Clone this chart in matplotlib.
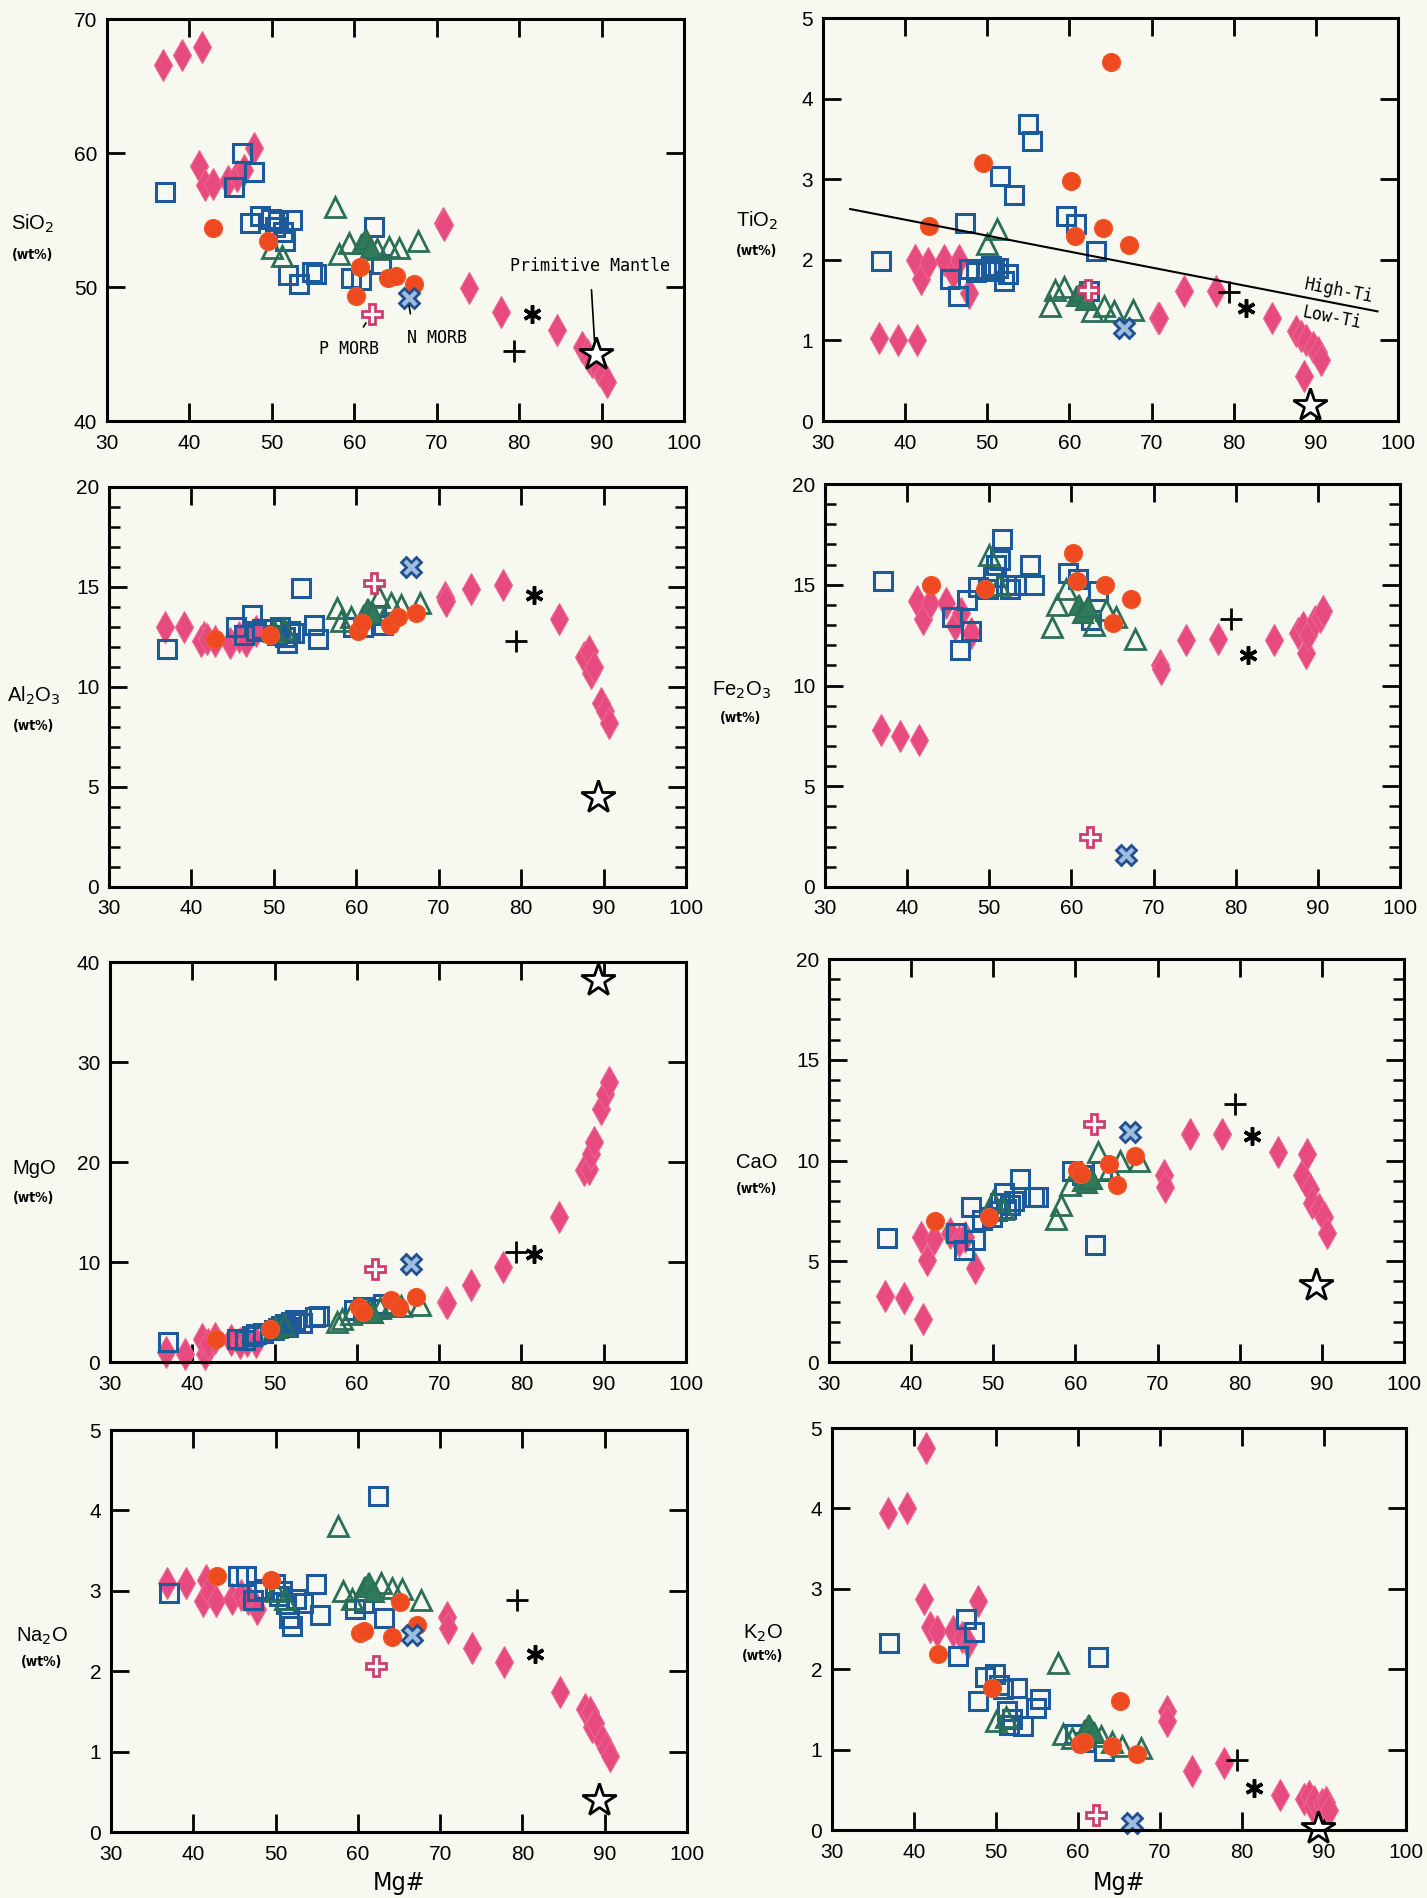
import numpy as np
import matplotlib
matplotlib.use("Agg")
import matplotlib.pyplot as plt
from matplotlib import font_manager
from matplotlib.ticker import MultipleLocator

# Mg# variation diagrams for major oxides (wt%)
oxides = ["SiO2", "TiO2", "Al2O3", "Fe2O3", "MgO", "CaO", "Na2O", "K2O"]
oxide_labels = ["SiO$_2$", "TiO$_2$", "Al$_2$O$_3$", "Fe$_2$O$_3$", "MgO", "CaO", "Na$_2$O", "K$_2$O"]

# pink diamonds
diamond_mg = [36.8, 39.1, 41.5, 41.2, 41.9, 42.8, 44.7, 45.8, 46.6, 47.8, 70.8, 70.9, 73.9, 77.8, 84.6,
              87.6, 88.2, 88.5, 88.8, 89.7, 90.2, 90.6]
diamond_SiO2 = [66.6, 67.3, 67.9, 59.0, 57.6, 57.7, 57.9, 58.3, 58.7, 60.4, 54.8, 54.6, 49.9, 48.1, 46.8,
                45.5, 45.0, 44.7, 44.4, 43.8, 43.4, 42.9]
diamond_TiO2 = [1.03, 1.01, 1.00, 2.00, 1.76, 1.96, 2.00, 1.84, 2.00, 1.59, 1.28, 1.28, 1.61, 1.61, 1.28,
                1.12, 1.05, 0.56, 1.00, 0.92, 0.85, 0.76]
diamond_Al2O3 = [13.0, 13.0, 12.5, 12.3, 12.4, 12.3, 12.2, 12.5, 12.3, 12.8, 14.5, 14.3, 14.9, 15.1, 13.4,
                 11.5, 11.8, 10.7, 11.0, 9.2, 8.8, 8.2]
diamond_Fe2O3 = [7.8, 7.5, 7.3, 14.2, 13.3, 14.1, 14.1, 13.0, 13.6, 12.6, 11.0, 10.8, 12.25, 12.3, 12.25,
                 12.6, 12.9, 11.6, 12.5, 13.2, 13.4, 13.7]
diamond_MgO = [1.0, 0.8, 0.8, 2.3, 1.8, 2.4, 2.2, 1.9, 2.1, 2.0, 6.0, 5.9, 7.7, 9.5, 14.5,
               19.2, 19.3, 20.8, 22.0, 25.3, 26.8, 28.0]
diamond_CaO = [3.3, 3.2, 2.15, 6.2, 5.05, 6.1, 6.4, 6.0, 6.2, 4.65, 9.3, 8.7, 11.3, 11.3, 10.4,
               9.3, 10.3, 8.6, 7.9, 7.6, 7.2, 6.4]
diamond_Na2O = [3.10, 3.10, 3.14, 2.87, 3.00, 2.87, 2.90, 2.95, 2.90, 2.77, 2.68, 2.54, 2.29, 2.12, 1.74,
                1.53, 1.49, 1.30, 1.35, 1.14, 1.05, 0.95]
diamond_K2O = [3.94, 4.00, 4.75, 2.87, 2.52, 2.48, 2.48, 2.40, 2.33, 2.85, 1.48, 1.35, 0.73, 0.83, 0.44,
               0.38, 0.42, 0.30, 0.36, 0.32, 0.35, 0.25]

# blue open squares
square_mg = [37.0, 45.4, 46.4, 47.3, 47.8, 48.6, 49.9, 50.4, 50.8, 51.3, 51.6, 52.0, 52.5, 53.3, 54.9,
             55.4, 59.6, 60.8, 62.4, 63.2]
square_SiO2 = [57.1, 57.5, 60.0, 54.8, 58.6, 55.3, 55.1, 54.5, 54.9, 54.1, 53.4, 50.9, 55.0, 50.2, 51.1,
               51.0, 50.7, 50.5, 54.5, 51.7]
square_TiO2 = [1.98, 1.76, 1.55, 2.46, 1.88, 1.85, 1.88, 1.92, 1.86, 1.90, 3.04, 1.74, 1.82, 2.81, 3.68,
               3.47, 2.54, 2.44, 1.61, 2.11]
square_Al2O3 = [11.9, 13.0, 12.6, 13.6, 12.8, 12.9, 12.9, 12.6, 13.0, 12.5, 12.2, 12.8, 12.7, 14.96, 13.1,
                12.4, 13.0, 13.0, 13.6, 13.1]
square_Fe2O3 = [15.2, 13.4, 11.75, 14.25, 12.7, 14.9, 14.8, 15.4, 16.0, 16.25, 17.25, 15.0, 14.8, 15.0, 16.0,
                15.0, 15.6, 15.3, 13.25, 14.7]
square_MgO = [2.0, 2.3, 2.2, 2.6, 2.8, 2.9, 3.2, 3.4, 3.6, 3.8, 3.5, 4.0, 4.2, 3.9, 4.5,
              4.6, 5.2, 5.5, 5.3, 5.8]
square_CaO = [6.14, 6.4, 5.56, 7.7, 6.06, 7.05, 7.2, 7.5, 7.9, 8.4, 7.6, 7.8, 8.0, 9.1, 8.2,
              8.2, 9.46, 9.3, 5.8, 9.5]
square_Na2O = [2.97, 3.18, 3.18, 2.89, 3.00, 3.02, 3.08, 2.93, 3.00, 2.83, 2.66, 2.56, 2.90, 2.85, 3.08,
               2.70, 2.77, 2.85, 4.18, 2.66]
square_K2O = [2.33, 2.17, 2.62, 2.46, 1.60, 1.90, 1.94, 1.80, 1.75, 1.48, 1.31, 1.38, 1.77, 1.29, 1.52,
              1.63, 1.19, 1.10, 2.15, 0.98]

# red filled circles
circle_mg = [42.9, 49.5, 60.2, 60.7, 64.1, 65.1, 67.2]
circle_SiO2 = [54.4, 53.4, 49.3, 51.5, 50.7, 50.8, 50.2]
circle_TiO2 = [2.42, 3.20, 2.98, 2.29, 2.39, 4.46, 2.18]
circle_Al2O3 = [12.4, 12.6, 12.8, 13.2, 13.1, 13.5, 13.7]
circle_Fe2O3 = [15.0, 14.8, 16.6, 15.2, 15.0, 13.1, 14.3]
circle_MgO = [2.3, 3.3, 5.5, 5.0, 6.2, 5.5, 6.5]
circle_CaO = [7.0, 7.2, 9.55, 9.35, 9.85, 8.8, 10.2]
circle_Na2O = [3.18, 3.13, 2.48, 2.50, 2.43, 2.86, 2.58]
circle_K2O = [2.19, 1.77, 1.07, 1.09, 1.05, 1.60, 0.94]

# green open triangles
tri_mg = [50.0, 51.2, 57.6, 58.2, 59.3, 62.8, 64.2, 65.4, 67.7]
tri_SiO2 = [52.9, 52.3, 56.0, 52.5, 53.3, 52.8, 53.0, 52.9, 53.4]
tri_TiO2 = [2.20, 2.38, 1.43, 1.62, 1.66, 1.36, 1.43, 1.36, 1.38]
tri_Al2O3 = [12.8, 12.9, 13.97, 13.3, 13.5, 14.5, 14.2, 14.1, 14.2]
tri_Fe2O3 = [16.5, 15.0, 12.9, 14.0, 14.8, 13.0, 13.75, 13.4, 12.3]
tri_MgO = [3.5, 3.7, 4.0, 4.3, 4.8, 5.4, 5.6, 5.6, 5.7]
tri_CaO = [8.0, 7.6, 7.1, 7.8, 8.8, 10.4, 9.6, 10.0, 10.0]
tri_Na2O = [3.00, 2.90, 3.81, 3.00, 2.90, 3.10, 3.04, 3.02, 2.89]
tri_K2O = [1.35, 1.40, 2.08, 1.20, 1.15, 1.17, 1.10, 1.05, 1.02]

# green filled triangles
solid_tri_mg = [60.9, 61.4, 62.0]
solid_tri_SiO2 = [53.2, 53.6, 52.9]
solid_tri_TiO2 = [1.55, 1.60, 1.50]
solid_tri_Al2O3 = [13.6, 13.9, 13.7]
solid_tri_Fe2O3 = [14.0, 13.6, 13.9]
solid_tri_MgO = [5.0, 5.2, 4.9]
solid_tri_CaO = [9.0, 8.9, 9.1]
solid_tri_Na2O = [3.05, 3.10, 2.98]
solid_tri_K2O = [1.25, 1.30, 1.22]

# reference compositions, oxide order as in `oxides`
pmorb_mg = 62.2
pmorb = [48.0, 1.62, 15.2, 2.5, 9.3, 11.8, 2.06, 0.19]
nmorb_mg = 66.6
nmorb = [49.2, 1.16, 16.0, 1.6, 9.8, 11.4, 2.45, 0.09]
plus_mg = 79.4
plus_ref = [45.2, 1.60, 12.3, 13.3, 11.0, 12.8, 2.89, 0.87]
aster_mg = 81.5
aster_ref = [48.0, 1.40, 14.6, 11.5, 10.8, 11.2, 2.22, 0.52]
pm_mg = 89.3
pm = [45.0, 0.20, 4.5, np.nan, 38.2, 3.8, 0.40, 0.03]

# High-Ti / Low-Ti divide
ti_line_mg = [33.3, 97.5]
ti_line_val = [2.63, 1.36]

# axis set-up per panel
y_limits = [(40, 70), (0, 5), (0, 20), (0, 20), (0, 40), (0, 20), (0, 5), (0, 5)]
y_steps = [10, 1, 5, 5, 10, 5, 1, 1]
y_minor = [None, None, 1, 1, None, 1, None, None]
x_ticks = [30, 40, 50, 60, 70, 80, 90, 100]

W, H = 1427, 1898
# panel boxes in pixels: left, right, top, bottom
boxes = [(107, 684, 19, 421), (823, 1398, 18, 421),
         (109, 686, 487, 887), (825, 1400, 484, 887),
         (110, 686, 962, 1362), (829, 1404, 959, 1362),
         (111, 687, 1430, 1832), (832, 1406, 1428, 1830)]
# oxide name / (wt%) label centres in pixels
name_pos = [(33, 224, 255), (757, 221, 251), (34, 696, 726), (741, 690, 718),
            (34, 1168, 1198), (757, 1162, 1189), (42, 1636, 1662), (763, 1633, 1656)]

names = {f.name for f in font_manager.fontManager.ttflist}
narrow = "Liberation Sans Narrow" if "Liberation Sans Narrow" in names else "DejaVu Sans"
mono = "DejaVu Sans Mono"
tick_font = "Liberation Sans"

bg = "#f7f8ef"
fig = plt.figure(figsize=(W / 100, H / 100), dpi=100, facecolor=bg)

groups = [
    ("diamond", dict(marker="d", ms=16, mfc="#e64a7e", mec="#ec6590", mew=0.8)),
    ("square", dict(marker="s", ms=13, mfc="none", mec="#1d5a9a", mew=2.2)),
    ("tri", dict(marker="^", ms=14, mfc="none", mec="#2b6f58", mew=2.0)),
    ("solid_tri", dict(marker="^", ms=14, mfc="#2f7a5a", mec="#2b6f58", mew=1.5)),
    ("circle", dict(marker="o", ms=13, mfc="#ee4a1f", mec="#f15a2a", mew=0.8)),
]
data = globals()

for i, ox in enumerate(oxides):
    x0, x1, y0, y1 = boxes[i]
    ax = fig.add_axes([x0 / W, 1 - y1 / H, (x1 - x0) / W, (y1 - y0) / H])
    ax.set_facecolor(bg)

    for key, style in groups:
        ax.plot(data[key + "_mg"], data[key + "_" + ox], linestyle="none", clip_on=False, **style)

    ax.plot([pmorb_mg], [pmorb[i]], linestyle="none", marker="P", ms=15, mfc="white",
            mec="#cf3d6f", mew=2, clip_on=False)
    ax.plot([nmorb_mg], [nmorb[i]], linestyle="none", marker="X", ms=15, mfc="#9dbde0",
            mec="#22508f", mew=2, clip_on=False)
    ax.plot([plus_mg], [plus_ref[i]], linestyle="none", marker="+", ms=16, mec="black", mew=2)
    ax.plot([aster_mg], [aster_ref[i]], linestyle="none", marker=(6, 2, 0), ms=13, mec="black", mew=2.5)
    ax.plot([pm_mg], [pm[i]], linestyle="none", marker="*", ms=25, mfc="white", mec="black",
            mew=2, clip_on=False)

    ax.set_xlim(30, 100)
    ax.set_ylim(*y_limits[i])
    ax.set_xticks(x_ticks)
    lo, hi = y_limits[i]
    ax.set_yticks(np.arange(lo, hi + 0.1, y_steps[i]))
    ax.set_yticklabels([f"{v:g}" for v in np.arange(lo, hi + 0.1, y_steps[i])])
    if y_minor[i]:
        ax.yaxis.set_minor_locator(MultipleLocator(y_minor[i]))
    ax.tick_params(which="major", direction="in", length=13, width=2, top=True, right=True,
                   labelsize=15, pad=9)
    ax.tick_params(which="minor", direction="in", length=8, width=1.8, right=True)
    ax.tick_params(axis="y", pad=7)
    for lab in ax.get_xticklabels() + ax.get_yticklabels():
        lab.set_fontfamily(tick_font)
    for sp in ax.spines.values():
        sp.set_linewidth(2.2)

    nx, ny1, ny2 = name_pos[i]
    fig.text(nx / W, 1 - ny1 / H, oxide_labels[i], ha="center", va="center",
             fontsize=14.5, family=tick_font)
    fig.text(nx / W, 1 - ny2 / H, "(wt%)", ha="center", va="center",
             fontsize=10, family=narrow, fontstretch="condensed", fontweight="bold")

    if i >= 6:
        # x label sits right at the bottom edge of the figure
        bottom_gap = (H - 3 - y1) / (y1 - y0)
        ax.text(0.5, -bottom_gap, "Mg#", transform=ax.transAxes, ha="center", va="bottom",
                fontsize=18, family=narrow, fontstretch="condensed", clip_on=False)

    if ox == "SiO2":
        ax.annotate("Primitive Mantle", xy=(89.2, 45.4), xytext=(88.6, 51.6), ha="center",
                    va="center", fontsize=12, family=mono,
                    arrowprops=dict(arrowstyle="-", lw=1.2, color="black", shrinkA=9, shrinkB=6))
        ax.annotate("P MORB", xy=(61.6, 47.5), xytext=(59.4, 45.35), ha="center", va="center",
                    fontsize=12, family=mono,
                    arrowprops=dict(arrowstyle="-", lw=1.2, color="black", shrinkA=9, shrinkB=2))
        ax.annotate("N MORB", xy=(66.6, 48.8), xytext=(70.0, 46.2), ha="center", va="center",
                    fontsize=12, family=mono,
                    arrowprops=dict(arrowstyle="-", lw=1.2, color="black", shrinkA=9, shrinkB=2,
                                    relpos=(0.1, 1.0)))

    if ox == "TiO2":
        ax.plot(ti_line_mg, ti_line_val, color="black", lw=1.5)
        p0 = ax.transData.transform((ti_line_mg[0], ti_line_val[0]))
        p1 = ax.transData.transform((ti_line_mg[1], ti_line_val[1]))
        ang = np.degrees(np.arctan2(p1[1] - p0[1], p1[0] - p0[0]))
        ax.text(92.8, 1.62, "High-Ti", rotation=ang, ha="center", va="center",
                fontsize=12, family=mono, rotation_mode="anchor")
        ax.text(91.9, 1.28, "Low-Ti", rotation=ang, ha="center", va="center",
                fontsize=12, family=mono, rotation_mode="anchor")

fig.savefig("out.png", dpi=100, facecolor=bg)
